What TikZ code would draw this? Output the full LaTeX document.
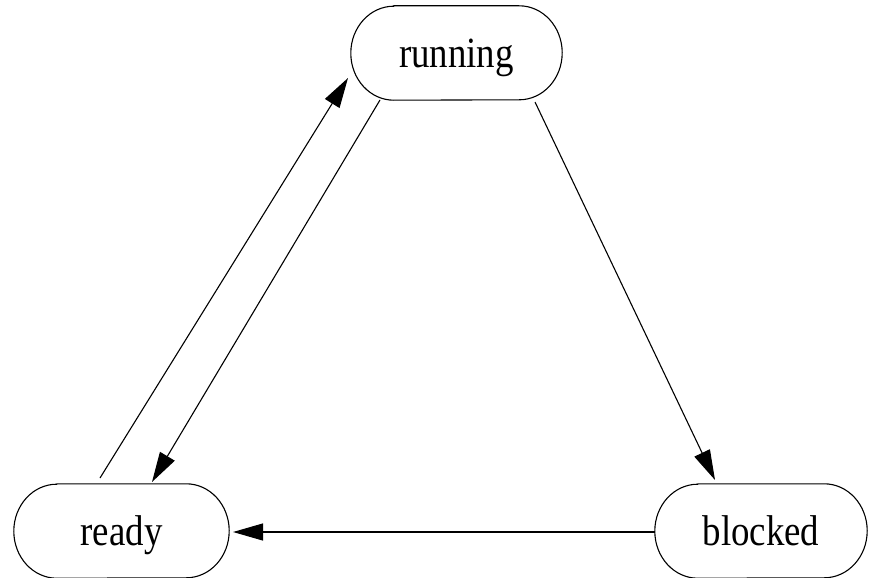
\documentclass[tikz,border=0pt]{standalone}
\usepackage{graphicx}
\usepackage{fontspec}
\setmainfont{Liberation Serif}
\usetikzlibrary{arrows.meta}
\newcommand\stadiumoutline[1]{%
  \draw[outline] ([xshift=43pt]#1.north west) -- ([xshift=-43pt]#1.north east)
    arc[start angle=90,end angle=-90,x radius=43pt,y radius=47pt]
    -- ([xshift=43pt]#1.south west)
    arc[start angle=270,end angle=90,x radius=43pt,y radius=47pt] -- cycle;}
\newcommand\tallword[1]{\scalebox{1.01}[1.18]{#1}}
\begin{document}
\begin{tikzpicture}[x=1pt,y=1pt,
  state/.style={minimum width=211pt, minimum height=94pt, inner sep=0pt,
    text height=29pt, text depth=0pt, font=\fontsize{36.5}{40}\selectfont},
  outline/.style={line width=1.1pt},
  edge/.style={line width=1.1pt, -{Triangle[length=30pt,width=17pt]}}]
\useasboundingbox (0,0) rectangle (873,-578);
\node[state] (running) at (456.5,-53) {\tallword{running}};
\node[state, minimum width=215pt] (ready) at (121.5,-531) {\tallword{ready}};
\node[state, minimum width=212pt] (blocked) at (761,-531) {\tallword{blocked}};
\stadiumoutline{running}
\stadiumoutline{ready}
\stadiumoutline{blocked}
\draw[edge] ([shift={(-21.5,53)}]ready.center) -- ([shift={(-108.5,-25)}]running.center);
\draw[edge] ([shift={(-76.5,-47)}]running.center) -- ([shift={(30.5,49)}]ready.center);
\draw[edge] ([shift={(78.5,-49)}]running.center) -- ([shift={(-46,51)}]blocked.center);
\draw[edge] ([shift={(-106,-1)}]blocked.center) -- ([shift={(111.5,-1)}]ready.center);
\end{tikzpicture}
\end{document}
